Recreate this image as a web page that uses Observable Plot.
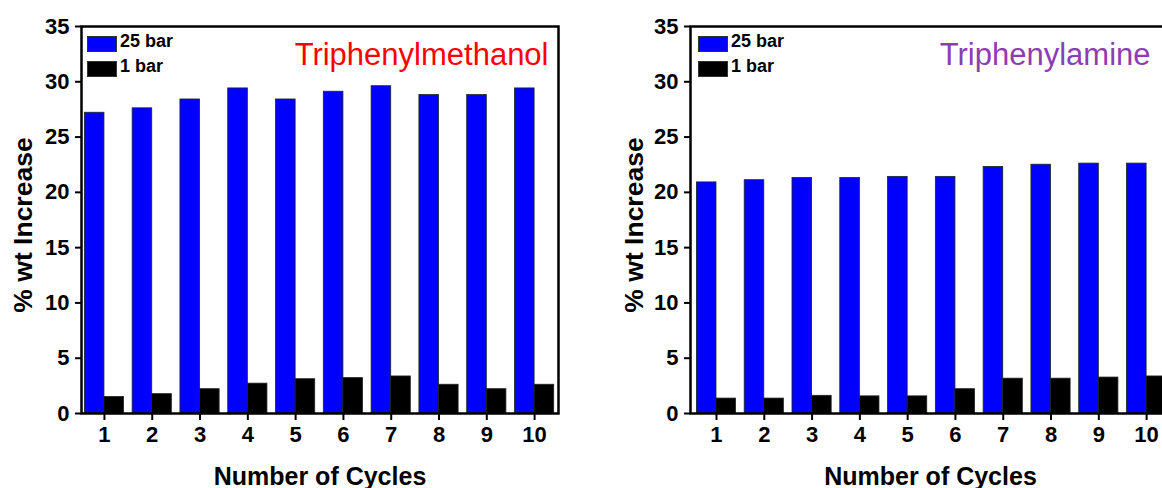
<!DOCTYPE html>
<html>
<head>
<meta charset="utf-8">
<script src="https://cdn.jsdelivr.net/npm/d3@7"></script>
<script src="https://cdn.jsdelivr.net/npm/@observablehq/plot@0.6"></script>
<style>
  html, body { margin: 0; padding: 0; background: #fff; }
  #wrap { position: relative; width: 1162px; height: 488px; overflow: hidden; background: #fff; font-family: "Liberation Sans", Arial, sans-serif; }
  .panel { position: absolute; top: 0; height: 488px; }
  .panel svg { max-width: none !important; }
  .legend { position: absolute; font-weight: bold; font-size: 18px; color: #000; }
  .legend .item { position: relative; height: 25px; }
  .legend .sw { position: absolute; left: 0; width: 28px; height: 14px; border: 1px solid #333; }
  .legend .lb { position: absolute; white-space: nowrap; }
</style>
</head>
<body>
<div id="wrap"></div>
<script>
// ---- data ----
const cycles = [1, 2, 3, 4, 5, 6, 7, 8, 9, 10];
const series = ["25 bar", "1 bar"];
const seriesColors = ["#0000ff", "#000000"];
const yTicks = [0, 5, 10, 15, 20, 25, 30, 35];

const methanol25 = [27.2, 27.6, 28.4, 29.4, 28.4, 29.1, 29.6, 28.8, 28.8, 29.4];
const methanol1  = [1.5, 1.75, 2.2, 2.7, 3.1, 3.2, 3.35, 2.6, 2.2, 2.6];
const amine25    = [20.9, 21.1, 21.3, 21.3, 21.4, 21.4, 22.3, 22.5, 22.6, 22.6];
const amine1     = [1.35, 1.35, 1.6, 1.55, 1.55, 2.2, 3.15, 3.15, 3.25, 3.35];

const panels = [
  {title: "Triphenylmethanol", titleColor: "#ff0000", hi: methanol25, lo: methanol1,
   left: 0, width: 580, marginLeft: 81, marginRight: 22, xDomain: [0.52, 10.5], titleDx: -10,
   yTitleDx: -58, legendLeft: 87},
  {title: "Triphenylamine", titleColor: "#8e3cb4", hi: amine25, lo: amine1,
   left: 600, width: 580, marginLeft: 90, marginRight: 10, xDomain: [0.456, 10.5], titleDx: -20,
   yTitleDx: -56, legendLeft: 698}
];

const wrap = document.getElementById("wrap");
const barHalf = 0.41;

for (const p of panels) {
  const rows = cycles.map((c, i) => ({cycle: c, hi: p.hi[i], lo: p.lo[i]}));
  const chart = Plot.plot({
    width: p.width,
    height: 488,
    marginLeft: p.marginLeft,
    marginRight: p.marginRight,
    marginTop: 26,
    marginBottom: 75,
    style: {fontFamily: '"Liberation Sans", Arial, sans-serif', background: "transparent", color: "#000", maxWidth: "none"},
    x: {type: "linear", domain: p.xDomain},
    y: {domain: [0, 35]},
    marks: [
      Plot.rectY(rows, {x1: d => d.cycle - barHalf, x2: d => d.cycle, y: "hi", fill: seriesColors[0], stroke: "#222", strokeWidth: 0.8}),
      Plot.rectY(rows, {x1: d => d.cycle, x2: d => d.cycle + barHalf, y: "lo", fill: seriesColors[1], stroke: "#222", strokeWidth: 0.8}),
      Plot.axisX({ticks: cycles, tickFormat: d => String(d), tickSize: 7, tickPadding: 6, strokeWidth: 2,
                  fontSize: 22, fontWeight: "bold", label: null}),
      Plot.axisY({ticks: yTicks, tickFormat: d => String(d), tickSize: 6, tickPadding: 6, strokeWidth: 2,
                  fontSize: 22, fontWeight: "bold", label: null}),
      Plot.frame({stroke: "#000", strokeWidth: 2.5}),
      Plot.text([p.title], {frameAnchor: "top-right", textAnchor: "end", lineAnchor: "top",
                 dx: p.titleDx, dy: 16, fill: p.titleColor, fontSize: 31}),
      Plot.text(["Number of Cycles"], {frameAnchor: "bottom", textAnchor: "middle", lineAnchor: "bottom", dy: 71,
                 fontSize: 25, fontWeight: "bold", fill: "#000"}),
      Plot.text(["% wt Increase"], {frameAnchor: "left", textAnchor: "middle", lineAnchor: "middle", rotate: -90,
                 dx: p.yTitleDx, dy: 5, fontSize: 26.5, fontWeight: "bold", fill: "#000"})
    ]
  });
  const holder = document.createElement("div");
  holder.className = "panel";
  holder.style.left = p.left + "px";
  holder.style.width = p.width + "px";
  holder.appendChild(chart);
  wrap.appendChild(holder);

  // legend
  const lg = document.createElement("div");
  lg.className = "legend";
  lg.style.left = p.legendLeft + "px";
  lg.style.top = "36px";
  series.forEach((s, i) => {
    const item = document.createElement("div");
    item.className = "item";
    const sw = document.createElement("div");
    sw.className = "sw";
    sw.style.background = seriesColors[i];
    const lb = document.createElement("div");
    lb.className = "lb";
    lb.textContent = s;
    lb.style.left = "33px";
    lb.style.top = "-5px";
    item.appendChild(sw);
    item.appendChild(lb);
    lg.appendChild(item);
  });
  wrap.appendChild(lg);
}
</script>
</body>
</html>
